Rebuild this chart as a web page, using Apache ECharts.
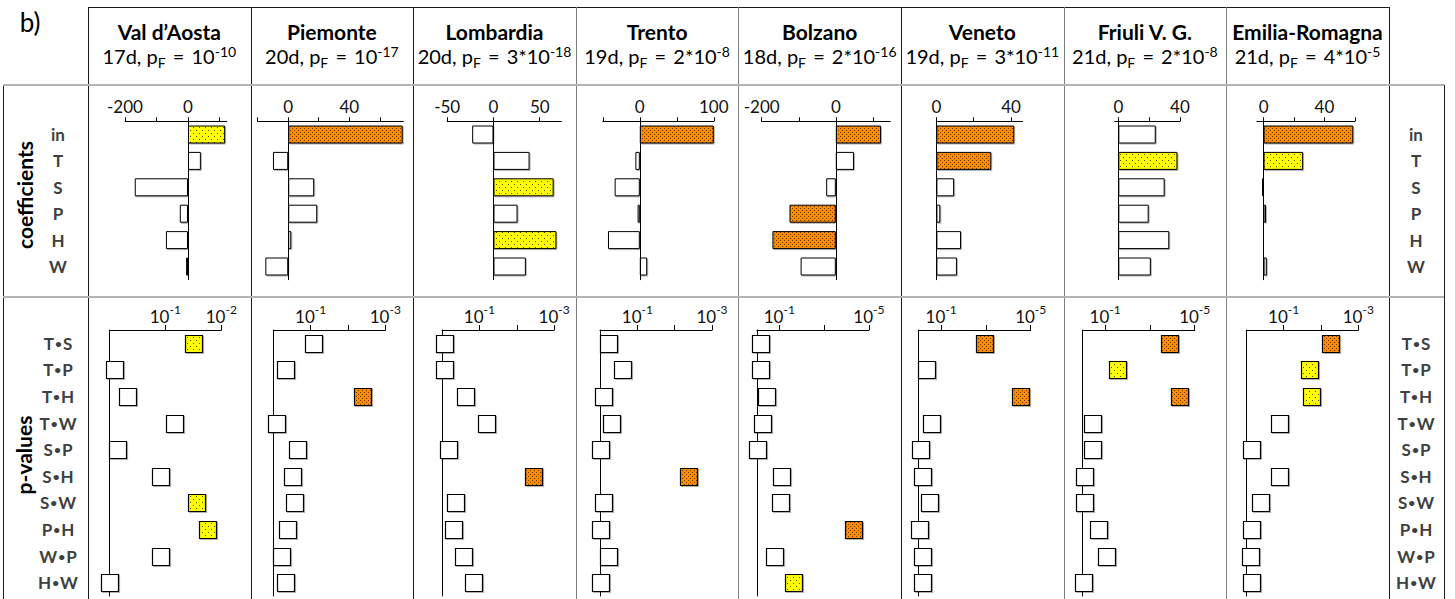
<!DOCTYPE html>
<html>
<head>
<meta charset="utf-8">
<script src="https://cdn.jsdelivr.net/npm/echarts@6/dist/echarts.min.js"></script>
<style>
  html, body { margin: 0; padding: 0; background: #fff; }
  #chart { width: 1455px; height: 599px; }
</style>
</head>
<body>
<div id="chart"></div>
<script>
// ---------- data ----------
const regions = ['Val d\u2019Aosta', 'Piemonte', 'Lombardia', 'Trento', 'Bolzano', 'Veneto', 'Friuli V. G.', 'Emilia-Romagna'];
const fitDays = [17, 20, 20, 19, 18, 19, 21, 21];
const pFMantissa = [null, null, 3, 2, 2, 3, 2, 4];
const pFExponent = [-10, -17, -18, -8, -16, -11, -8, -5];

const coefNames = ['in', 'T', 'S', 'P', 'H', 'W'];
const interactionNames = ['T\u2022S', 'T\u2022P', 'T\u2022H', 'T\u2022W', 'S\u2022P', 'S\u2022H', 'S\u2022W', 'P\u2022H', 'W\u2022P', 'H\u2022W'];

// regression coefficients (in, T, S, P, H, W)
const coefValdAosta = [118, 41, -169, -26, -70, -6];
const coefPiemonte  = [75, -10, 17, 19, 2, -15];
const coefLombardia = [-23, 39, 65, 26, 68, 35];
const coefTrento    = [100, -6, -34, -3, -43, 10];
const coefBolzano   = [122, 49, -26, -125, -171, -95];
const coefVeneto    = [41.7, 29.4, 9.5, 2.1, 13.2, 11];
const coefFriuli    = [24.3, 38.4, 30.1, 19.7, 33.1, 21.1];
const coefEmilia    = [59, 26, -1, 1.6, 0, 2.1];

// significance level of each coefficient: 2 = p<0.01, 1 = p<0.05, 0 = n.s.
const sigValdAosta = [1, 0, 0, 0, 0, 0];
const sigPiemonte  = [2, 0, 0, 0, 0, 0];
const sigLombardia = [0, 0, 1, 0, 1, 0];
const sigTrento    = [2, 0, 0, 0, 0, 0];
const sigBolzano   = [2, 0, 0, 2, 2, 0];
const sigVeneto    = [2, 2, 0, 0, 0, 0];
const sigFriuli    = [0, 1, 0, 0, 0, 0];
const sigEmilia    = [2, 1, 0, 0, 0, 0];

// p-values of the interaction terms (T•S ... H•W)
const pValdAosta = [0.032, 0.81, 0.48, 0.069, 0.71, 0.12, 0.028, 0.018, 0.12, 0.98];
const pPiemonte  = [0.085, 0.46, 0.0041, 0.81, 0.23, 0.30, 0.27, 0.42, 0.59, 0.48];
const pLombardia = [0.87, 0.87, 0.23, 0.065, 0.66, 0.0035, 0.44, 0.50, 0.26, 0.14];
const pTrento    = [0.58, 0.25, 0.83, 0.49, 0.98, 0.0043, 0.79, 0.98, 0.58, 0.99];
const pBolzano   = [0.66, 0.66, 0.36, 0.58, 0.98, 0.078, 0.087, 0.000051, 0.17, 0.023];
const pVeneto    = [0.0011, 0.45, 0.00003, 0.26, 0.87, 0.69, 0.32, 0.89, 0.69, 0.69];
const pFriuli    = [0.00014, 0.029, 0.00005, 0.36, 0.36, 0.81, 0.81, 0.19, 0.089, 0.89];
const pEmilia    = [0.0056, 0.020, 0.018, 0.13, 0.71, 0.13, 0.42, 0.74, 0.79, 0.71];

// coefficient axes
const coefAxisMin = [-200, -20, -50, -50, -200, 0, -2.3, -4.4];
const coefAxisMax = [123, 75.4, 73.4, 100, 147, 46.2, 40, 60];
const coefTicks = [[-200, -100, 0, 100], [-20, 0, 20, 40, 60], [-50, 0, 50], [-50, 0, 50, 100],
                   [-200, -100, 0, 100], [0, 20, 40], [0, 20, 40], [0, 20, 40, 60]];
const coefTickLabels = [[-200, 0], [0, 40], [-50, 0, 50], [0, 100], [-200, 0], [0, 40], [0, 40], [0, 40]];

// p-value axes, in decades (10^-k)
const pAxisMaxDecade = [2, 3, 3, 3, 5, 5, 5, 3];
const pTickDecades = [[1, 2], [1, 2, 3], [1, 2, 3], [1, 2, 3], [1, 3, 5], [1, 3, 5], [1, 3, 5], [1, 2, 3]];
const pLabelDecades = [[1, 2], [1, 3], [1, 3], [1, 3], [1, 5], [1, 5], [1, 5], [1, 3]];

const coefByRegion = [coefValdAosta, coefPiemonte, coefLombardia, coefTrento, coefBolzano, coefVeneto, coefFriuli, coefEmilia];
const sigByRegion = [sigValdAosta, sigPiemonte, sigLombardia, sigTrento, sigBolzano, sigVeneto, sigFriuli, sigEmilia];
const pByRegion = [pValdAosta, pPiemonte, pLombardia, pTrento, pBolzano, pVeneto, pFriuli, pEmilia];

// ---------- layout ----------
const FONT = 'Lato, "Open Sans", sans-serif';
const colX = [88, 250.6, 413.2, 575.8, 738.4, 901, 1063.6, 1226.2, 1388.8];
const tableLeft = 3, tableRight = 1444;
const headerTop = 7, row1Top = 85, row2Top = 297, tableBottom = 599;

const coefGridLeft  = [125, 257.7, 447.2, 602.8, 761.7, 936.4, 1114.8, 1256.9];
const coefGridRight = [226.7, 403.3, 561.4, 713.8, 890.3, 1022.6, 1179.9, 1354.8];
const pGridLeft = [109.3, 273.3, 442.1, 600, 756.9, 918.7, 1082.7, 1246.3];
const pGridWidth = 112;
const COEF_TOP = 121.3, COEF_H = 158.4;
const P_TOP = 330, P_H = 266;
const SQUARE = 17;
const markShadow = { shadowColor: 'rgba(0,0,0,0.3)', shadowBlur: 1, shadowOffsetX: 1, shadowOffsetY: 1 };

// ---------- fills ----------
function dotFill(base, dot, w, h, dots) {
  const c = document.createElement('canvas');
  c.width = w; c.height = h;
  const g = c.getContext('2d');
  g.fillStyle = base; g.fillRect(0, 0, w, h);
  g.fillStyle = dot;
  dots.forEach(([x, y]) => g.fillRect(x, y, 1, 1));
  return { image: c, repeat: 'repeat', imageWidth: w, imageHeight: h };
}
const fillStrong = dotFill('#FF8C00', '#6a3a00', 4, 4, [[0, 0], [2, 2]]);
const fillWeak = dotFill('#FFFF00', '#4d4d00', 6, 6, [[1, 1], [4, 4]]);
const fillNone = '#ffffff';
const sigFill = s => (s === 2 ? fillStrong : s === 1 ? fillWeak : fillNone);
const pFill = p => (p < 0.01 ? fillStrong : p < 0.05 ? fillWeak : fillNone);

// ---------- grids, axes, series ----------
const grids = [], xAxes = [], yAxes = [], series = [];

regions.forEach((name, i) => {
  grids.push({ left: coefGridLeft[i], width: coefGridRight[i] - coefGridLeft[i], top: COEF_TOP, height: COEF_H, outerBoundsMode: 'none' });
  xAxes.push({
    gridIndex: i, type: 'value', position: 'top', min: coefAxisMin[i], max: coefAxisMax[i],
    splitLine: { show: false },
    axisLine: { show: true, onZero: false, lineStyle: { color: '#000', width: 1 } },
    axisTick: { show: true, length: 4, customValues: coefTicks[i], lineStyle: { color: '#000' } },
    axisLabel: { customValues: coefTickLabels[i], margin: 6, fontSize: 17, color: '#111', fontFamily: FONT,
                 formatter: v => String(v) }
  });
  yAxes.push({
    gridIndex: i, type: 'category', inverse: true, data: coefNames, z: 3,
    axisLine: { show: true, onZero: true, lineStyle: { color: '#000', width: 1 } },
    axisTick: { show: false }, axisLabel: { show: false }, splitLine: { show: false }
  });
  series.push({
    type: 'bar', xAxisIndex: i, yAxisIndex: i, barWidth: 18, silent: true,
    itemStyle: Object.assign({ borderColor: '#000', borderWidth: 1 }, markShadow),
    data: coefByRegion[i].map((v, k) => ({ value: v, itemStyle: { color: sigFill(sigByRegion[i][k]) } }))
  });
});

regions.forEach((name, i) => {
  const gi = 8 + i;
  grids.push({ left: pGridLeft[i], width: pGridWidth, top: P_TOP, height: P_H, outerBoundsMode: 'none' });
  xAxes.push({
    gridIndex: gi, type: 'value', position: 'top', min: 0, max: pAxisMaxDecade[i],
    splitLine: { show: false },
    axisLine: { show: true, onZero: false, lineStyle: { color: '#000', width: 1 } },
    axisTick: { show: true, length: 5, customValues: pTickDecades[i], lineStyle: { color: '#000' } },
    axisLabel: {
      customValues: pLabelDecades[i], margin: 5, color: '#111', fontFamily: FONT,
      formatter: v => '{b|10}{s|-' + v + '}',
      rich: {
        b: { fontSize: 17, lineHeight: 22, verticalAlign: 'bottom', fontFamily: FONT, color: '#111' },
        s: { fontSize: 12, lineHeight: 16, verticalAlign: 'top', fontFamily: FONT, color: '#111' }
      }
    }
  });
  yAxes.push({
    gridIndex: gi, type: 'category', inverse: true, data: interactionNames,
    axisLine: { show: true, onZero: true, lineStyle: { color: '#000', width: 1 } },
    axisTick: { show: false }, axisLabel: { show: false }, splitLine: { show: false }
  });
  // one square per interaction term, placed at -log10(p)
  series.push({
    type: 'custom', xAxisIndex: gi, yAxisIndex: gi, silent: true, clip: false,
    encode: { x: 0, y: 1 },
    data: pByRegion[i].map((p, k) => [-Math.log10(p), k, p]),
    renderItem: (params, api) => {
      const c = api.coord([api.value(0), api.value(1)]);
      return {
        type: 'rect',
        shape: { x: Math.round(c[0] - SQUARE / 2) + 0.5, y: Math.round(c[1] - SQUARE / 2) + 0.5, width: SQUARE, height: SQUARE },
        style: Object.assign({ fill: pFill(api.value(2)), stroke: '#000', lineWidth: 1.2 }, markShadow)
      };
    }
  });
});

// row-label columns on both sides
function labelColumn(axisX, top, height, names) {
  const gi = grids.length;
  grids.push({ left: axisX, width: 2, top: top, height: height, outerBoundsMode: 'none' });
  xAxes.push({ gridIndex: gi, type: 'value', show: false });
  yAxes.push({
    gridIndex: gi, type: 'category', inverse: true, data: names,
    axisLine: { show: false }, axisTick: { show: false }, splitLine: { show: false },
    axisLabel: {
      margin: 22, align: 'center', fontWeight: 'bold', fontSize: 17, color: '#404040', fontFamily: FONT,
      formatter: n => n.replace('\u2022', '{d|\u2022}'),
      rich: { d: { fontSize: 12, fontWeight: 'bold', color: '#404040', fontFamily: FONT, padding: [0, 1, 0, 1] } }
    }
  });
}
labelColumn(80, COEF_TOP, COEF_H, coefNames);
labelColumn(80, P_TOP, P_H, interactionNames);
labelColumn(1438, COEF_TOP, COEF_H, coefNames);
labelColumn(1438, P_TOP, P_H, interactionNames);

// ---------- table frame and header text ----------
const graphics = [];
const crisp = v => Math.round(v) + 0.5;
function line(x1, y1, x2, y2, color, width) {
  graphics.push({ type: 'line', silent: true, shape: { x1: x1, y1: y1, x2: x2, y2: y2 },
                  style: { stroke: color, lineWidth: width } });
}
const dark = '#1a1a1a', mid = '#7f7f7f', light = '#b3b3b3';
const colColor = [dark, dark, dark, mid, mid, dark, mid, mid, dark];

line(colX[0], crisp(headerTop), colX[8], crisp(headerTop), dark, 1);
colX.forEach((x, j) => line(crisp(x), headerTop, crisp(x), tableBottom, colColor[j], 1));
line(crisp(tableLeft), row1Top, crisp(tableLeft), tableBottom, dark, 1);
line(crisp(tableRight), row1Top, crisp(tableRight), tableBottom, dark, 1);
line(tableLeft, row1Top, tableRight, row1Top, light, 2);
line(tableLeft, row2Top, tableRight, row2Top, light, 2);

const centered = { align: 'center', verticalAlign: 'middle', textAlign: 'center', textVerticalAlign: 'middle' };

graphics.push({ type: 'text', x: 30, y: 22, silent: true,
  style: Object.assign({ text: 'b)', fontSize: 26, fontFamily: FONT, fill: '#000' }, centered) });

regions.forEach((name, i) => {
  const cx = (colX[i] + colX[i + 1]) / 2;
  graphics.push({ type: 'text', x: cx, y: 31, silent: true,
    style: Object.assign({ text: name, fontSize: 21, fontWeight: 'bold', fontFamily: FONT, fill: '#000' }, centered) });
  const mant = pFMantissa[i] === null ? '' : pFMantissa[i] + '*';
  const sub = '{t|' + fitDays[i] + 'd, p}{f|F}{q| = }{t|' + mant + '10}{e|' + pFExponent[i] + '}';
  graphics.push({ type: 'text', x: cx, y: 56, silent: true,
    style: Object.assign({ text: sub, fontSize: 20, fontFamily: FONT, fill: '#000',
      rich: {
        t: { fontSize: 20, lineHeight: 26, verticalAlign: 'middle', fontFamily: FONT, fill: '#000' },
        q: { fontSize: 20, lineHeight: 26, verticalAlign: 'middle', fontFamily: FONT, fill: '#000', padding: [0, 2, 0, 2] },
        f: { fontSize: 14, lineHeight: 14, verticalAlign: 'middle', fontFamily: FONT, fill: '#000', padding: [12, 0, 0, 0] },
        e: { fontSize: 14, lineHeight: 14, verticalAlign: 'middle', fontFamily: FONT, fill: '#000', padding: [0, 0, 10, 0] }
      } }, centered) });
});

graphics.push({ type: 'text', x: 24, y: 195, rotation: Math.PI / 2, silent: true,
  style: Object.assign({ text: 'coefficients', fontSize: 21, fontWeight: 'bold', fontFamily: FONT, fill: '#000' }, centered) });
graphics.push({ type: 'text', x: 23, y: 455, rotation: Math.PI / 2, silent: true,
  style: Object.assign({ text: 'p-values', fontSize: 21, fontWeight: 'bold', fontFamily: FONT, fill: '#000' }, centered) });

const chart = echarts.init(document.getElementById('chart'), null, { renderer: 'svg', width: 1455, height: 599 });
chart.setOption({
  animation: false,
  backgroundColor: '#fff',
  textStyle: { fontFamily: FONT },
  grid: grids,
  xAxis: xAxes,
  yAxis: yAxes,
  series: series,
  graphic: { elements: graphics }
});
</script>
</body>
</html>
